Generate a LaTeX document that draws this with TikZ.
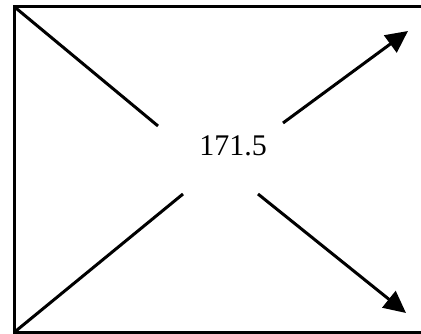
\documentclass[tikz,border=0pt]{standalone}
\usepackage{fontspec}
\setmainfont{Liberation Serif}
\usetikzlibrary{arrows.meta}
\begin{document}
\begin{tikzpicture}[x=1pt,y=-1pt,
  frameline/.style={line width=3pt},
  diag/.style={line width=3pt},
  arr/.style={line width=3pt,-{Triangle[length=22pt,width=21pt]}},
  lbl/.style={font=\fontsize{30}{32}\selectfont,inner sep=0pt}]
\useasboundingbox (0,0) rectangle (421,334);
\fill[white] (0,0) rectangle (421,334);
\coordinate (tl) at (14,6.5);
\coordinate (tr) at (421,6.5);
\coordinate (bl) at (14,332.5);
\coordinate (br) at (421,332.5);
\draw[frameline] (tr) -- (tl) -- (bl) -- (br);
\node[lbl] (val) at (233,146) {171.5};
\coordinate (a1) at (158,126);
\coordinate (b1) at (183,194);
\coordinate (c1) at (283,123);
\coordinate (c2) at (408,31);
\coordinate (d1) at (258,194);
\coordinate (d2) at (406,313);
\draw[diag] (tl) -- (a1);
\draw[diag] (bl) -- (b1);
\draw[arr] (c1) -- (c2);
\draw[arr] (d1) -- (d2);
\end{tikzpicture}
\end{document}
